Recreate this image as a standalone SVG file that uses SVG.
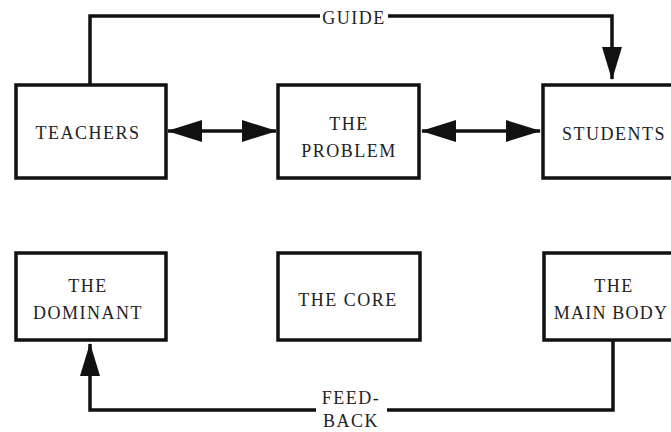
<svg xmlns="http://www.w3.org/2000/svg" width="671" height="432" viewBox="0 0 671 432">
<style>
.box{fill:#fff;stroke:#111;stroke-width:3.5}
.t{font-family:"Liberation Serif","Times New Roman",serif;font-size:18px;letter-spacing:1.5px;fill:#222;text-anchor:middle}
.ln{fill:none;stroke:#111;stroke-width:3.5}
</style>
<defs>
<marker id="ah" markerUnits="userSpaceOnUse" markerWidth="36" markerHeight="24" refX="34" refY="11" orient="auto-start-reverse" viewBox="0 0 36 22">
<path d="M0,0 L35,11 L0,22 Z" fill="#111"/>
</marker>
<marker id="ah2" markerUnits="userSpaceOnUse" markerWidth="34" markerHeight="22" refX="32" refY="10" orient="auto" viewBox="0 0 34 20">
<path d="M0,0 L33,10 L0,20 Z" fill="#111"/>
</marker>
</defs>
<rect width="671" height="432" fill="#fff"/>
<g id="connectors">
<path class="ln" d="M90,84 V16 H320"/>
<path class="ln" d="M388,16 H612 V79" marker-end="url(#ah2)"/>
<path class="ln" d="M168,131 H276" marker-start="url(#ah)" marker-end="url(#ah)"/>
<path class="ln" d="M422,131 H540" marker-start="url(#ah)" marker-end="url(#ah)"/>
<path class="ln" d="M613,341 V410 H387"/>
<path class="ln" d="M316,410 H90 V344" marker-end="url(#ah2)"/>
<text class="t" x="354" y="24">GUIDE</text>
<text class="t" x="351" y="404">FEED-</text>
<text class="t" x="351" y="427">BACK</text>
</g>
<g id="teachers">
<rect class="box" x="16" y="85" width="150" height="93"/>
<text class="t" x="88" y="139">TEACHERS</text>
</g>
<g id="problem">
<rect class="box" x="278" y="85" width="141" height="93"/>
<text class="t" x="349" y="130">THE</text>
<text class="t" x="349" y="157">PROBLEM</text>
</g>
<g id="students">
<rect class="box" x="543" y="85" width="145" height="93"/>
<text class="t" x="614" y="140">STUDENTS</text>
</g>
<g id="dominant">
<rect class="box" x="16" y="253" width="150" height="87"/>
<text class="t" x="88" y="292">THE</text>
<text class="t" x="88" y="319">DOMINANT</text>
</g>
<g id="core">
<rect class="box" x="278" y="253" width="142" height="87"/>
<text class="t" x="348" y="306">THE CORE</text>
</g>
<g id="mainbody">
<rect class="box" x="544" y="253" width="145" height="87"/>
<text class="t" x="614" y="292">THE</text>
<text class="t" x="611" y="319" style="letter-spacing:1.2px">MAIN BODY</text>
</g>
</svg>
